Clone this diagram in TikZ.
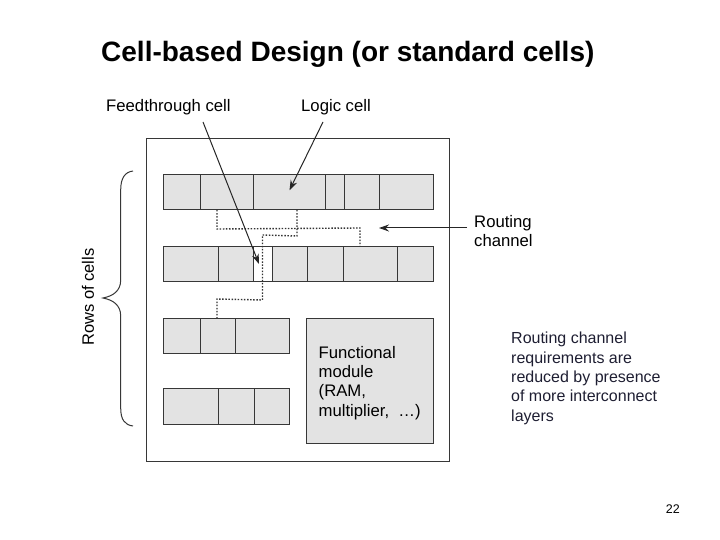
\documentclass[tikz,border=0pt]{standalone}
\usepackage{fontspec}
\setmainfont{Liberation Sans}
\usepackage{xcolor}
\usetikzlibrary{positioning,calc,arrows.meta}
\definecolor{cellgray}{RGB}{227,227,227}
\definecolor{linegray}{RGB}{55,55,55}
\definecolor{notecolor}{RGB}{30,30,50}
\tikzset{
  cell/.style={draw=linegray,fill=cellgray,line width=1pt,inner sep=0pt,anchor=north west},
  wire/.style={dash pattern=on 1.5pt off 1.6pt,line width=1.4pt,draw=black!80},
  pointer/.style={-{Stealth[length=10pt,width=7pt]},line width=1pt,draw=black!85},
  lab/.style={inner sep=0pt,align=left,anchor=north west,font=\fontsize{16.7}{19.3}\selectfont}
}
% #1 name, #2 left, #3 right, #4 top, #5 bottom
\newcommand{\cellat}[5]{\node[cell,minimum width=#3pt-#2pt,minimum height=#5pt-#4pt] (#1) at (#2,#4) {};}
\begin{document}
\begin{tikzpicture}[x=1pt,y=-1pt]
\useasboundingbox (0,0) rectangle (720,540);

\node[anchor=base west,inner sep=0pt,font=\fontsize{28}{30}\selectfont\bfseries] (title) at (101,62) {Cell-based Design (or standard cells)};

\node[draw=linegray,line width=1.1pt,inner sep=0pt,anchor=north west,minimum width=303pt,minimum height=323pt] (chip) at (146,138) {};

% first row
\cellat{a1}{163}{200}{174.5}{209}
\cellat{a2}{200}{253}{174.5}{209}
\cellat{a3}{253}{325}{174.5}{209}
\cellat{a4}{325}{344}{174.5}{209}
\cellat{a5}{344}{379}{174.5}{209}
\cellat{a6}{379}{432.5}{174.5}{209}
% second row
\cellat{b1}{163}{218}{246}{281}
\cellat{b2}{218}{253}{246}{281}
\node[cell,fill=white,minimum width=19pt,minimum height=35pt] (feed) at (253,246) {};
\cellat{b3}{272}{307}{246}{281}
\cellat{b4}{307}{343}{246}{281}
\cellat{b5}{343}{397}{246}{281}
\cellat{b6}{397}{432.5}{246}{281}
% third row
\cellat{c1}{163}{200}{318}{353}
\cellat{c2}{200}{235}{318}{353}
\cellat{c3}{235}{289}{318}{353}
% fourth row
\cellat{d1}{163}{218}{388}{424}
\cellat{d2}{218}{254}{388}{424}
\cellat{d3}{254}{289}{388}{424}

\node[cell,minimum width=126.5pt,minimum height=125pt] (module) at (306,318) {};
\node[lab] (modtext) at (318.5,346) {Functional\\module\\(RAM,\\multiplier,\ \ …)};

% dotted wires
\draw[wire] ($(a2.south west)+(17,0)$) -- ++(0,19) -- ($(b5.north west)+(17,-18)$) -- ($(b5.north west)+(17,0)$);
\draw[wire] ($(a3.south west)+(44,0)$) -- ++(0,26) -- ($(feed.north)+(-.5,-11)$) -- ($(feed.south)+(-.5,18)$) -- ($(c2.north west)+(17,-19)$) -- ($(c2.north west)+(17,0)$);

% labels and pointers
\node[lab] (feedlab) at (106,99) {Feedthrough cell};
\node[lab] (logiclab) at (301,99) {Logic cell};
\node[lab] (routelab) at (474,215) {Routing\\channel};
\coordinate (feedstart) at (203,122);
\coordinate (logicstart) at (323,122);
\coordinate (routestart) at (467,228);
\coordinate (feedtip) at ($(feed.west)+(6,0)$);
\coordinate (logictip) at ($(a3.center)+(0,-2)$);
\coordinate (routetip) at (379,228);
\draw[pointer] (feedstart) -- (feedtip);
\draw[pointer] (logicstart) -- (logictip);
\draw[pointer] (routestart) -- (routetip);

\node[rotate=90,inner sep=0pt,font=\fontsize{16.5}{19}\selectfont] (rows) at (88,297) {Rows of cells};

% brace
\draw[line width=1pt,draw=linegray] (133,171) .. controls (125,172) and (120.7,178) .. (120.7,190) -- (120.7,280) .. controls (120.7,291) and (113,296) .. (103,298) .. controls (113,300) and (120.7,305) .. (120.7,316) -- (120.7,408) .. controls (120.7,420) and (125,425) .. (133,426);

\node[lab,font=\fontsize{16}{19.4}\selectfont,text=notecolor] (note) at (511,332) {Routing channel\\requirements are\\reduced by presence\\of more interconnect\\layers};
\node[anchor=base east,inner sep=0pt,font=\fontsize{12.5}{14}\selectfont] (pagenum) at (680,513) {22};
\end{tikzpicture}
\end{document}
